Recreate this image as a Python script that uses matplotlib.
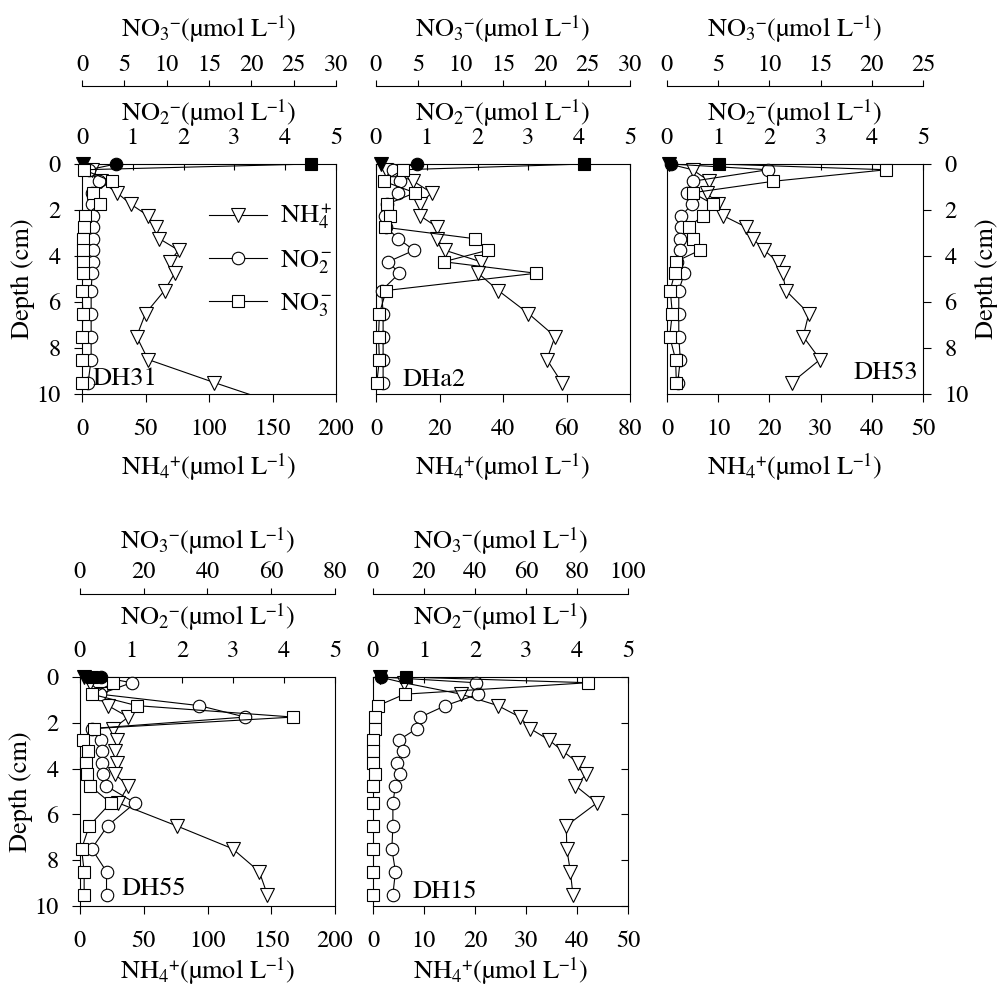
import matplotlib
matplotlib.use('Agg')
import matplotlib.pyplot as plt
import numpy as np

# ── Fonts: Times-like serif for text and math ───────────────────────────────
SERIF = 'TeX Gyre Termes'
plt.rcParams['font.family'] = [SERIF, 'STIXGeneral', 'DejaVu Serif']
plt.rcParams['mathtext.fontset'] = 'custom'
plt.rcParams['mathtext.rm'] = SERIF
plt.rcParams['mathtext.it'] = SERIF + ':italic'
plt.rcParams['mathtext.default'] = 'regular'
FS = 17.5        # tick labels
FS_LABEL = 19    # axis titles, legend, station tags

# ── Data (depth 0 = overlying water, drawn as filled markers) ───────────────
DEPTH = [0, 0.25, 0.75, 1.25, 1.75, 2.25, 2.75, 3.25, 3.75, 4.25, 4.75,
         5.5, 6.5, 7.5, 8.5, 9.5]
DEPTH_DH31_NH4 = DEPTH + [10.5]

DH31_NH4 = [1, 8, 15, 27.5, 38.5, 52, 58, 61, 76, 69, 73, 65, 50, 43, 52, 104, 158]
DH31_NO2 = [0.67, 0.13, 0.33, 0.2, 0.2, 0.22, 0.22, 0.22, 0.22, 0.22, 0.2,
            0.18, 0.18, 0.18, 0.18, 0.12]
DH31_NO3 = [27.1, 0.2, 3.5, 1.3, 2.1, 0.3, 0.2, 0.1, 0.1, 0.1, 0.1,
            0.0, 0.1, 0.0, 0.0, 0.0]

DHA2_NH4 = [1.5, 3, 11.8, 17.5, 13.9, 13.9, 19.3, 19.3, 21.7, 33, 32.2,
            38.5, 48, 56.4, 53.8, 58.5]
DHA2_NO2 = [0.8, 0.34, 0.47, 0.44, 0.21, 0.18, 0.2, 0.44, 0.75, 0.24, 0.46,
            0.11, 0.14, 0.14, 0.14, 0.14]
DHA2_NO3 = [24.6, 3.2, 0.9, 4.6, 1.3, 1.65, 1.06, 11.7, 13.2, 8.0, 18.9,
            1.2, 0.4, 0.3, 0.4, 0.1]

DH53_NH4 = [0.4, 5, 8.3, 7.8, 9.9, 11, 15.5, 16.8, 19, 21.6, 22.6,
            23.2, 27.7, 26.6, 29.9, 24.4]
DH53_NO2 = [0.08, 1.97, 0.5, 0.39, 0.49, 0.28, 0.28, 0.25, 0.26, 0.2, 0.34,
            0.23, 0.23, 0.23, 0.26, 0.21]
DH53_NO3 = [5.07, 21.4, 10.4, 2.5, 4.5, 3.5, 2.1, 2.5, 3.2, 0.84, 0.75,
            0.32, 0.52, 0.26, 0.84, 0.91]

DH55_NH4 = [3.1, 8, 17, 22, 37.9, 26, 28.8, 27.4, 29.3, 27.4, 37.9,
            30, 75.8, 119.7, 140.6, 146.9]
DH55_NO2 = [0.42, 1.01, 0.39, 2.34, 3.24, 0.23, 0.42, 0.44, 0.44, 0.46, 0.51,
            1.08, 0.54, 0.23, 0.52, 0.52]
DH55_NO3 = [3.7, 10.5, 3.7, 17.8, 66.9, 4.5, 1.0, 2.6, 1.9, 2.3, 3.1,
            9.6, 2.9, 0.5, 1.3, 1.3]

DH15_NH4 = [1.3, 6, 17.3, 24.5, 28.8, 30.8, 34.5, 37.3, 40.2, 41.8, 39.7,
            43.9, 37.9, 38, 38.7, 39.2]
DH15_NO2 = [0.16, 2.01, 2.06, 1.42, 0.93, 0.86, 0.51, 0.58, 0.47, 0.52, 0.44,
            0.39, 0.39, 0.37, 0.44, 0.39]
DH15_NO3 = [12.8, 84.3, 12.4, 2.0, 0.65, 0.65, 0.0, 0.0, 0.0, 0.65, 0.0,
            0.0, 0.0, 0.0, 0.0, 0.0]

# ── Panel layout (pixel box: left, right, top, bottom) ──────────────────────
W, H = 997, 988
PANELS = [
    dict(name='DH31', box=(82, 336, 164, 394), nh4=(DEPTH_DH31_NH4, DH31_NH4), no2=DH31_NO2, no3=DH31_NO3,
         nh4_max=200, nh4_step=50, no3_max=30, no3_step=5, yside='left', legend=True, row=0,
         tag_xy=(0.04, 0.015), tag_ha='left'),
    dict(name='DHa2', box=(376, 630, 164, 394), nh4=(DEPTH, DHA2_NH4), no2=DHA2_NO2, no3=DHA2_NO3,
         nh4_max=80, nh4_step=20, no3_max=30, no3_step=5, yside=None, legend=False, row=0,
         tag_xy=(0.105, 0.01), tag_ha='left'),
    dict(name='DH53', box=(667, 923, 164, 394), nh4=(DEPTH, DH53_NH4), no2=DH53_NO2, no3=DH53_NO3,
         nh4_max=50, nh4_step=10, no3_max=25, no3_step=5, yside='right', legend=False, row=0,
         tag_xy=(0.98, 0.04), tag_ha='right'),
    dict(name='DH55', box=(80, 335, 677, 906), nh4=(DEPTH, DH55_NH4), no2=DH55_NO2, no3=DH55_NO3,
         nh4_max=200, nh4_step=50, no3_max=80, no3_step=20, yside='left', legend=False, row=1,
         tag_xy=(0.165, 0.02), tag_ha='left'),
    dict(name='DH15', box=(373, 628, 677, 906), nh4=(DEPTH, DH15_NH4), no2=DH15_NO2, no3=DH15_NO3,
         nh4_max=50, nh4_step=10, no3_max=100, no3_step=20, yside='inright', legend=False, row=1,
         tag_xy=(0.155, 0.01), tag_ha='left'),
]

NH4_LABEL = r'NH$_4$$^{+}$(µmol L$^{-1}$)'
NO2_LABEL = r'NO$_2$$^{-}$(µmol L$^{-1}$)'
NO3_LABEL = r'NO$_3$$^{-}$(µmol L$^{-1}$)'

# per-row offsets (points) of the detached NO3 axis and label pads
NO3_OFFSET = [56, 60]
NO2_LABELPAD = [5, 11]
NO3_LABELPAD = [12, 9]
NH4_LABELPAD = [9, 3]


def draw_profile(ax, depth, values, marker, ms):
    """Line through all points, filled marker at surface, open below."""
    depth = np.asarray(depth, dtype=float)
    values = np.asarray(values, dtype=float)
    ax.plot(values, depth, color='k', lw=0.8, zorder=2)
    inside = (depth > 0) & (depth <= 10)
    ax.plot(values[inside], depth[inside], ls='none', marker=marker, ms=ms,
            mfc='white', mec='k', mew=0.8, clip_on=False, zorder=3)
    ax.plot(values[:1], depth[:1], ls='none', marker=marker, ms=ms,
            mfc='k', mec='k', mew=0.8, clip_on=False, zorder=4)


fig = plt.figure(figsize=(W / 100, H / 100), dpi=100)

for p in PANELS:
    l, r, t, b = p['box']
    ax = fig.add_axes([l / W, 1 - b / H, (r - l) / W, (b - t) / H])
    row = p['row']

    # NO2 axis (top of frame) - created first so NO3 squares sit above circles
    ax2 = ax.twiny()
    ax2.set_xlim(0, 5)
    ax2.set_xticks(np.arange(0, 5.1, 1))
    ax2.tick_params(axis='x', direction='in', length=4, width=0.8, pad=10.5, labelsize=FS)
    ax2.set_xlabel(NO2_LABEL, fontsize=FS_LABEL, labelpad=NO2_LABELPAD[row])
    for s in ax2.spines.values():
        s.set_visible(False)

    # NO3 axis (detached, above)
    ax3 = ax.twiny()
    ax3.spines['top'].set_position(('outward', NO3_OFFSET[row]))
    for s in ('left', 'right', 'bottom'):
        ax3.spines[s].set_visible(False)
    ax3.set_xlim(0, p['no3_max'])
    ax3.set_xticks(np.arange(0, p['no3_max'] + 0.1, p['no3_step']))
    ax3.tick_params(axis='x', direction='out', length=4.5, width=0.8, pad=3, labelsize=FS)
    ax3.set_xlabel(NO3_LABEL, fontsize=FS_LABEL, labelpad=NO3_LABELPAD[row])
    ax3.spines['top'].set_linewidth(0.8)

    # NH4 / depth frame
    ax.set_xlim(0, p['nh4_max'])
    ax.set_xticks(np.arange(0, p['nh4_max'] + 0.1, p['nh4_step']))
    ax.set_ylim(10, 0)
    ax.set_yticks(np.arange(0, 10.1, 2))
    ax.tick_params(axis='x', direction='out', length=5.5, width=0.8, pad=12, labelsize=FS)
    ax.set_xlabel(NH4_LABEL, fontsize=FS_LABEL, labelpad=NH4_LABELPAD[row])
    for s in ax.spines.values():
        s.set_linewidth(0.8)

    if p['yside'] == 'left':
        ax.tick_params(axis='y', direction='out', length=5.5, width=0.8, pad=10, labelsize=FS,
                       left=True, right=False, labelleft=True)
        ax.set_ylabel('Depth (cm)', fontsize=FS_LABEL, labelpad=1)
    elif p['yside'] == 'right':
        ax.yaxis.set_label_position('right')
        ax.tick_params(axis='y', direction='out', length=5.5, width=0.8, pad=10, labelsize=FS,
                       left=False, right=True, labelleft=False, labelright=True)
        ax.set_ylabel('Depth (cm)', fontsize=FS_LABEL, labelpad=4)
    elif p['yside'] == 'inright':
        ax.tick_params(axis='y', direction='in', length=5, width=0.8, left=False, right=True,
                       labelleft=False, labelright=False)
    else:
        ax.tick_params(axis='y', left=False, right=False, labelleft=False)

    nh4_depth, nh4_vals = p['nh4']
    draw_profile(ax, nh4_depth, nh4_vals, 'v', 10)
    draw_profile(ax2, DEPTH, p['no2'], 'o', 9)
    draw_profile(ax3, DEPTH, p['no3'], 's', 9)
    ax2.set_ylim(10, 0)
    ax3.set_ylim(10, 0)

    ax3.text(p['tag_xy'][0], p['tag_xy'][1], p['name'], transform=ax.transAxes,
             ha=p['tag_ha'], va='bottom', fontsize=FS_LABEL, zorder=6)

    if p['legend']:
        handles = [
            plt.Line2D([], [], color='k', lw=0.8, marker='v', ms=10, mfc='white', mec='k', mew=0.8),
            plt.Line2D([], [], color='k', lw=0.8, marker='o', ms=9, mfc='white', mec='k', mew=0.8),
            plt.Line2D([], [], color='k', lw=0.8, marker='s', ms=9, mfc='white', mec='k', mew=0.8),
        ]
        labels = [r'NH$_4^+$', r'NO$_2^-$', r'NO$_3^-$']
        ax3.legend(handles, labels, loc='upper left', bbox_to_anchor=(0.5, 0.83),
                   frameon=False, fontsize=FS_LABEL, handlelength=2.2, handletextpad=0.5,
                   labelspacing=0.6, borderpad=0, borderaxespad=0)

fig.savefig('out.png', dpi=100)
